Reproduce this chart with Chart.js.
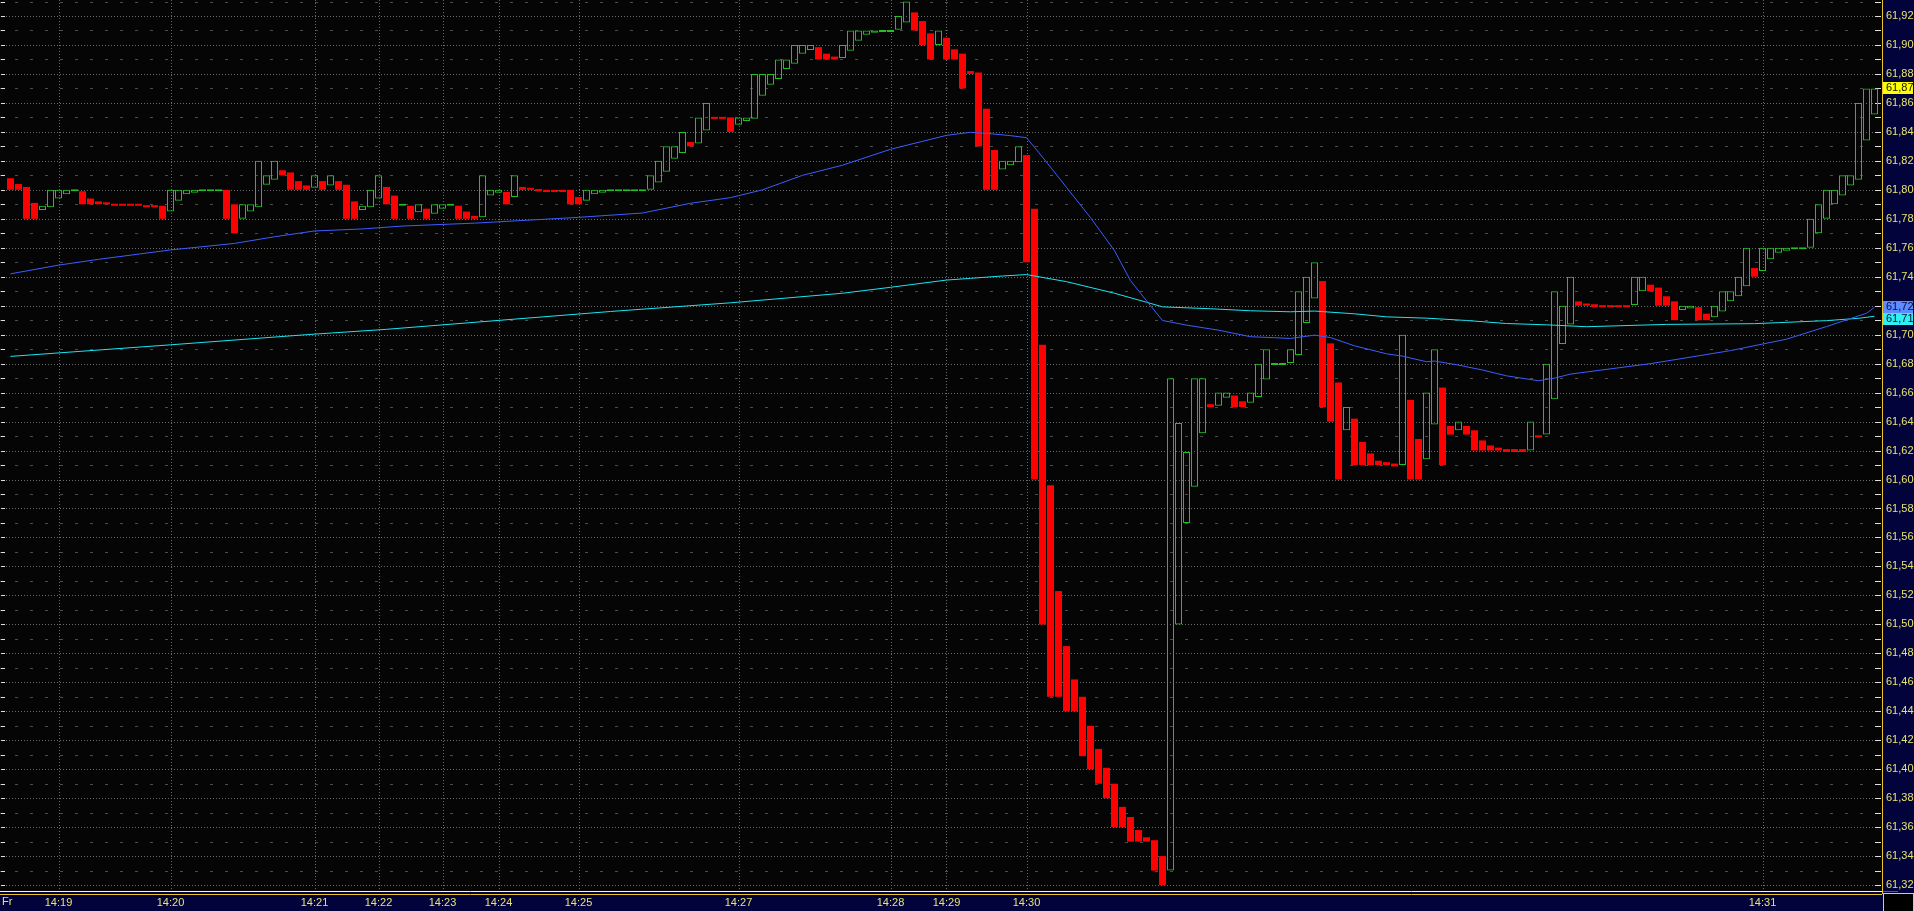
<!DOCTYPE html>
<html>
<head>
<meta charset="utf-8">
<title>Tick chart</title>
<script src="https://cdn.jsdelivr.net/npm/chart.js@4.4.1/dist/chart.umd.min.js"></script>
<style>
  html, body { margin: 0; padding: 0; background: #03033c; }
  #wrap { width: 1914px; height: 911px; }
</style>
</head>
<body>
<div id="wrap"><canvas id="chart" width="1914" height="911"></canvas></div>
<script>
// bar open / close, one entry per bar, left to right
const openPrice = [
  61.808, 61.804, 61.802, 61.791, 61.786, 61.788, 61.794, 61.797, 61.799, 61.799,
  61.794, 61.792, 61.791, 61.790, 61.790, 61.790, 61.790, 61.789, 61.789, 61.789,
  61.785, 61.7925, 61.797, 61.798, 61.799, 61.799, 61.799, 61.800, 61.790, 61.780,
  61.785, 61.788, 61.8035, 61.807, 61.8135, 61.812, 61.806, 61.803, 61.8015, 61.806,
  61.803, 61.806, 61.8035, 61.792, 61.786, 61.788, 61.794, 61.802, 61.796, 61.789,
  61.789, 61.7845, 61.787, 61.7835, 61.787, 61.789, 61.789, 61.785, 61.782, 61.781,
  61.796, 61.798, 61.7985, 61.795, 61.802, 61.801, 61.8005, 61.800, 61.800, 61.800,
  61.800, 61.795, 61.7925, 61.797, 61.798, 61.799, 61.799, 61.799, 61.799, 61.799,
  61.800, 61.805, 61.8125, 61.8215, 61.8255, 61.833, 61.832, 61.841, 61.850, 61.850,
  61.850, 61.845, 61.8475, 61.849, 61.865, 61.8725, 61.8765, 61.8835, 61.887, 61.894,
  61.8965, 61.8985, 61.894, 61.892, 61.891, 61.896, 61.903, 61.907, 61.9085, 61.909,
  61.909, 61.9105, 61.9155, 61.9225, 61.9165, 61.908, 61.900, 61.905, 61.897, 61.894,
  61.882, 61.881, 61.856, 61.8275, 61.814, 61.817, 61.819, 61.824, 61.787, 61.693,
  61.596, 61.523, 61.485, 61.462, 61.450, 61.430, 61.414, 61.401, 61.390, 61.374,
  61.367, 61.358, 61.353, 61.351, 61.340, 61.330, 61.500, 61.570, 61.595, 61.632,
  61.652, 61.651, 61.6565, 61.658, 61.654, 61.653, 61.657, 61.669, 61.679, 61.679,
  61.6805, 61.686, 61.708, 61.725, 61.737, 61.694, 61.667, 61.634, 61.642, 61.626,
  61.618, 61.613, 61.612, 61.611, 61.610, 61.655, 61.628, 61.614, 61.638, 61.6635,
  61.637, 61.634, 61.637, 61.634, 61.627, 61.6235, 61.622, 61.621, 61.621, 61.621,
  61.620, 61.6305, 61.631, 61.6555, 61.6935, 61.707, 61.723, 61.7215, 61.721, 61.720,
  61.720, 61.720, 61.720, 61.7205, 61.730, 61.7345, 61.7325, 61.7265, 61.723, 61.717,
  61.718, 61.719, 61.7145, 61.712, 61.716, 61.723, 61.7265, 61.7335, 61.746, 61.744,
  61.752, 61.7565, 61.758, 61.759, 61.759, 61.760, 61.770, 61.780, 61.790, 61.796,
  61.803, 61.807, 61.834, 61.852
];
const closePrice = [
  61.800, 61.800, 61.780, 61.780, 61.789, 61.800, 61.800, 61.800, 61.800, 61.790,
  61.790, 61.790, 61.790, 61.789, 61.789, 61.789, 61.789, 61.788, 61.788, 61.780,
  61.800, 61.800, 61.800, 61.800, 61.800, 61.800, 61.800, 61.780, 61.770, 61.790,
  61.790, 61.820, 61.810, 61.820, 61.810, 61.800, 61.800, 61.800, 61.810, 61.800,
  61.810, 61.800, 61.780, 61.780, 61.789, 61.800, 61.810, 61.790, 61.780, 61.790,
  61.780, 61.790, 61.780, 61.790, 61.790, 61.790, 61.780, 61.780, 61.780, 61.810,
  61.800, 61.800, 61.790, 61.810, 61.800, 61.800, 61.799, 61.7985, 61.7985, 61.7985,
  61.790, 61.790, 61.800, 61.800, 61.800, 61.800, 61.800, 61.800, 61.800, 61.800,
  61.810, 61.820, 61.830, 61.830, 61.840, 61.830, 61.850, 61.860, 61.849, 61.849,
  61.840, 61.850, 61.850, 61.880, 61.880, 61.880, 61.890, 61.890, 61.900, 61.900,
  61.900, 61.890, 61.890, 61.890, 61.900, 61.910, 61.910, 61.910, 61.910, 61.910,
  61.910, 61.920, 61.930, 61.910, 61.900, 61.890, 61.910, 61.890, 61.890, 61.870,
  61.880, 61.830, 61.800, 61.800, 61.820, 61.820, 61.830, 61.750, 61.600, 61.500,
  61.450, 61.450, 61.440, 61.440, 61.409, 61.400, 61.390, 61.380, 61.360, 61.360,
  61.350, 61.350, 61.350, 61.330, 61.320, 61.670, 61.639, 61.619, 61.670, 61.670,
  61.650, 61.660, 61.660, 61.650, 61.650, 61.660, 61.680, 61.690, 61.680, 61.680,
  61.690, 61.730, 61.740, 61.750, 61.650, 61.640, 61.600, 61.650, 61.610, 61.610,
  61.610, 61.610, 61.610, 61.609, 61.700, 61.600, 61.600, 61.660, 61.690, 61.610,
  61.631, 61.640, 61.631, 61.620, 61.620, 61.620, 61.620, 61.619, 61.619, 61.619,
  61.640, 61.629, 61.680, 61.730, 61.720, 61.740, 61.720, 61.720, 61.719, 61.719,
  61.719, 61.719, 61.719, 61.740, 61.740, 61.730, 61.720, 61.720, 61.710, 61.720,
  61.720, 61.710, 61.710, 61.720, 61.730, 61.730, 61.740, 61.760, 61.740, 61.760,
  61.760, 61.760, 61.760, 61.760, 61.760, 61.780, 61.790, 61.800, 61.800, 61.810,
  61.810, 61.860, 61.870, 61.870
];

// moving averages, read at a few bar positions
const blueIdx = [0, 6, 11, 20, 28, 33, 38, 44, 49, 58, 71, 79, 85, 90, 94, 99, 104, 110, 117, 120,
  122, 125, 127, 129, 132, 135, 138, 140, 142, 144, 147, 151, 155, 158, 160, 163, 165, 168, 172, 174,
  177, 178, 181, 184, 187, 191, 193, 195, 205, 215, 222, 227, 232, 233];
const blueVal = [61.742, 61.748, 61.752, 61.7585, 61.763, 61.7676, 61.7716, 61.773, 61.775, 61.777,
  61.781, 61.784, 61.7907, 61.7946, 61.800, 61.810, 61.817, 61.828, 61.8376, 61.8397,
  61.839, 61.8374, 61.836, 61.8226, 61.8017, 61.7808, 61.758, 61.7373, 61.7234, 61.7098,
  61.7066, 61.7031, 61.6986, 61.6979, 61.6974, 61.6997, 61.698, 61.6923, 61.6868, 61.6852,
  61.6813, 61.6818, 61.679, 61.6756, 61.6716, 61.6682, 61.670, 61.6728, 61.680, 61.689,
  61.6969, 61.7056, 61.7148, 61.7189];
const cyanIdx = [0, 20, 37, 47, 75, 90, 104, 110, 117, 120, 124, 127, 132, 138, 142, 144, 150, 155, 160, 163,
  168, 172, 177, 182, 187, 192, 197, 207, 218, 221, 227, 231, 233];
const cyanVal = [61.685, 61.693, 61.700, 61.7037, 61.716, 61.722, 61.7286, 61.7327, 61.7377, 61.7389,
  61.7405, 61.7415, 61.7366, 61.7286, 61.7224, 61.7192, 61.7179, 61.7165, 61.7158, 61.7163,
  61.7144, 61.7123, 61.7114, 61.7098, 61.7077, 61.7068, 61.7055, 61.7071, 61.7076, 61.7083,
  61.7097, 61.7113, 61.7127];

// time axis: label and the bar it sits on
const timeLabels = ['14:19', '14:20', '14:21', '14:22', '14:23', '14:24', '14:25', '14:27', '14:28', '14:29', '14:30', '14:31'];
const timeIndex = [6, 20, 38, 46, 54, 61, 71, 91, 110, 117, 127, 219];

const priceTicks = [61.32, 61.34, 61.36, 61.38, 61.40, 61.42, 61.44, 61.46, 61.48, 61.50, 61.52,
  61.54, 61.56, 61.58, 61.60, 61.62, 61.64, 61.66, 61.68, 61.70, 61.72, 61.74, 61.76, 61.78,
  61.80, 61.82, 61.84, 61.86, 61.88, 61.90, 61.92];

const FONT = '"Liberation Sans", Arial, sans-serif';
const TXT = '#e8e46a';
const UP = '#1fc21f';
const DOWN = '#ff0000';

const bars = openPrice.map((o, i) => ({ x: i, y: [o, closePrice[i]] }));
const blueLine = blueIdx.map((x, k) => ({ x: x, y: blueVal[k] }));
const cyanLine = cyanIdx.map((x, k) => ({ x: x, y: cyanVal[k] }));

function isUp(c) {
  return c.raw && c.raw.y && c.raw.y[1] > c.raw.y[0];
}

function fixSize(w, h) {
  return function (s) {
    if (w) s.width = w;
    if (h) s.height = h;
    s.paddingTop = 0; s.paddingBottom = 0; s.paddingLeft = 0; s.paddingRight = 0;
  };
}

// black plot on navy panels
const background = {
  id: 'background',
  beforeDraw(chart) {
    const c = chart.ctx, a = chart.chartArea;
    c.save();
    c.fillStyle = '#03033c';
    c.fillRect(0, 0, chart.width, chart.height);
    c.fillStyle = '#050505';
    c.fillRect(a.left, a.top, a.right - a.left, a.bottom - a.top);
    c.restore();
  }
};

// dotted price / time grid and the little edge ticks
const grid = {
  id: 'grid',
  beforeDatasetsDraw(chart) {
    const c = chart.ctx, a = chart.chartArea;
    const ys = chart.scales.y, xs = chart.scales.x;
    c.save();
    c.lineWidth = 1;
    for (let k = 0; k <= 62; k++) {
      const v = 61.31 + k * 0.01;
      const y = Math.round(ys.getPixelForValue(v)) + 0.5;
      if (y < a.top || y > a.bottom) continue;
      const even = Math.round(v * 100) % 2 === 0;
      c.beginPath();
      if (even) {
        c.setLineDash([1, 2]);
        c.strokeStyle = '#6a6a6a';
        c.moveTo(a.left + 6, y);
        c.lineTo(a.right - 8, y);
      } else {
        c.setLineDash([3, 12]);
        c.lineDashOffset = -15;
        c.strokeStyle = '#4c4c4c';
        c.moveTo(a.left, y);
        c.lineTo(a.right - 8, y);
      }
      c.stroke();
      c.setLineDash([]);
      c.lineDashOffset = 0;
      c.strokeStyle = '#e0e0e0';
      c.beginPath();
      c.moveTo(a.left + 1, y);
      c.lineTo(a.left + 5, y);
      c.moveTo(a.right - 7, y);
      c.lineTo(a.right - 1, y);
      c.stroke();
    }
    c.setLineDash([1, 2]);
    c.strokeStyle = '#6a6a6a';
    timeIndex.forEach(v => {
      const x = Math.round(xs.getPixelForValue(v)) + 0.5;
      c.beginPath();
      c.moveTo(x, a.top);
      c.lineTo(x, a.bottom);
      c.stroke();
    });
    c.restore();
  }
};

// axis frame lines, corner, price tags
const frame = {
  id: 'frame',
  afterDraw(chart) {
    const c = chart.ctx, a = chart.chartArea, ys = chart.scales.y;
    c.save();
    c.lineWidth = 1;
    c.strokeStyle = '#fff6c0';
    c.beginPath(); c.moveTo(0, a.bottom + 0.5); c.lineTo(a.right, a.bottom + 0.5); c.stroke();
    c.strokeStyle = '#e8c428';
    c.beginPath(); c.moveTo(0, a.bottom + 3.5); c.lineTo(a.right, a.bottom + 3.5); c.stroke();
    c.beginPath(); c.moveTo(a.right + 0.5, 0); c.lineTo(a.right + 0.5, a.bottom + 3); c.stroke();

    c.fillStyle = '#000000';
    c.fillRect(a.right + 1, a.bottom + 2, chart.width - a.right - 1, chart.height - a.bottom - 2);
    c.strokeStyle = '#c8c8c8';
    c.strokeRect(a.right + 1.5, a.bottom + 2.5, chart.width - a.right - 2, chart.height - a.bottom - 2);
    c.strokeStyle = '#2c54ff';
    c.beginPath(); c.moveTo(a.right + 1, a.bottom + 0.5); c.lineTo(a.right + 16, a.bottom + 0.5); c.stroke();

    c.font = '11px ' + FONT;
    c.textBaseline = 'middle';
    c.fillStyle = TXT;
    c.fillText('Fr', 2, a.bottom + 11);

    function tag(val, yPix, bg, fg) {
      const y = Math.round(yPix);
      c.fillStyle = bg;
      c.fillRect(a.right + 1, y - 6, chart.width - a.right - 2, 12);
      c.fillStyle = fg;
      c.fillText(val.toFixed(2).replace('.', ','), a.right + 4, y);
    }
    const last = closePrice[closePrice.length - 1];
    const bLast = blueVal[blueVal.length - 1];
    const cLast = cyanVal[cyanVal.length - 1];
    const yb = ys.getPixelForValue(bLast);
    let yc = ys.getPixelForValue(cLast);
    if (Math.abs(yc - yb) < 12) yc = yb + 12;
    tag(bLast, yb, '#5c8cff', '#0a0a40');
    tag(cLast, yc, '#2ef2f2', '#0a0a40');
    tag(last, ys.getPixelForValue(last), '#ffff00', '#101010');
    c.restore();
  }
};

new Chart(document.getElementById('chart'), {
  type: 'bar',
  data: {
    datasets: [
      {
        type: 'line', data: blueLine, borderColor: '#3d5cff', borderWidth: 1,
        pointRadius: 0, tension: 0, order: 1
      },
      {
        type: 'line', data: cyanLine, borderColor: '#19e6f0', borderWidth: 1,
        pointRadius: 0, tension: 0, order: 2
      },
      {
        type: 'bar', data: bars, order: 3,
        barThickness: 7, minBarLength: 2, borderSkipped: false, inflateAmount: 0,
        backgroundColor: c => isUp(c) ? 'rgba(0,0,0,0)' : DOWN,
        borderColor: c => isUp(c) ? UP : DOWN,
        borderWidth: c => isUp(c) ? 1 : 0
      }
    ]
  },
  options: {
    responsive: false,
    animation: false,
    devicePixelRatio: 1,
    layout: { padding: 0 },
    plugins: { legend: { display: false }, tooltip: { enabled: false } },
    scales: {
      x: {
        type: 'linear', min: -1.3125, max: 233.9375, offset: false,
        grid: { display: false, drawTicks: false },
        border: { display: false },
        ticks: {
          color: TXT, font: { family: FONT, size: 11 }, padding: 5,
          maxRotation: 0, autoSkip: false,
          callback: v => {
            const k = timeIndex.indexOf(v);
            return k >= 0 ? timeLabels[k] : '';
          }
        },
        afterBuildTicks: s => { s.ticks = timeIndex.map(v => ({ value: v })); },
        afterFit: fixSize(0, 20)
      },
      y: {
        type: 'linear', position: 'right', min: 61.31593, max: 61.93105,
        grid: { display: false, drawTicks: false },
        border: { display: false },
        ticks: {
          color: TXT, font: { family: FONT, size: 11 }, padding: 4, autoSkip: false,
          callback: v => v.toFixed(2).replace('.', ',')
        },
        afterBuildTicks: s => { s.ticks = priceTicks.map(v => ({ value: v })); },
        afterFit: fixSize(32, 0)
      }
    }
  },
  plugins: [background, grid, frame]
});
</script>
</body>
</html>
